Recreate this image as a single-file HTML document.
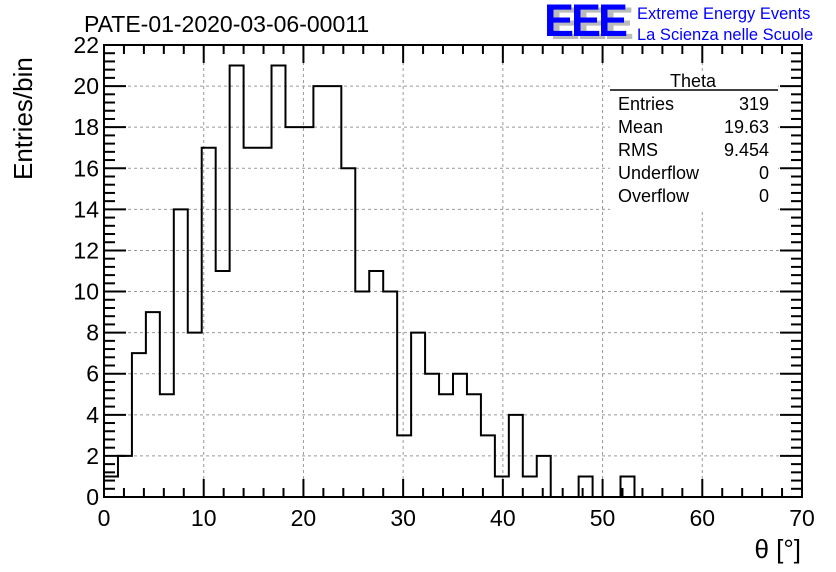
<!DOCTYPE html>
<html><head><meta charset="utf-8"><style>
body{margin:0;background:#fff;}
svg{display:block;font-family:"Liberation Sans",sans-serif;}
</style></head><body>
<svg width="836" height="572" xmlns="http://www.w3.org/2000/svg">
<rect width="836" height="572" fill="#fff"/>
<g id="grid"></g>
<g id="ticks"></g>
<path id="hist" fill="none" stroke="#000" stroke-width="2"/>
<rect x="104" y="45" width="698" height="452" fill="none" stroke="#000" stroke-width="2"/>
<g id="labels" font-size="23"></g>
<text x="84" y="32" font-size="23">PATE-01-2020-03-06-00011</text>
<text x="801" y="558" font-size="26" text-anchor="end">θ [°]</text>
<text transform="translate(32,180) rotate(-90)" font-size="26">Entries/bin</text>
<g>
<text x="550" y="39" font-size="45" font-weight="bold" fill="#bbb" letter-spacing="-3">EEE</text>
<text x="544" y="36" font-size="45" font-weight="bold" fill="#0000ff" letter-spacing="-3">EEE</text>
<text x="637" y="19" font-size="16.5" fill="#0000ff">Extreme Energy Events</text>
<text x="637" y="40" font-size="16.5" fill="#0000ff">La Scienza nelle Scuole</text>
</g>
<g font-size="18">
<rect x="610" y="72" width="168" height="138" fill="#fff"/>
<text x="693" y="87" text-anchor="middle">Theta</text>
<line x1="610" y1="90" x2="778" y2="90" stroke="#000" stroke-width="1.5"/>
<text x="618" y="110">Entries</text><text x="769" y="110" text-anchor="end">319</text>
<text x="618" y="133">Mean</text><text x="769" y="133" text-anchor="end">19.63</text>
<text x="618" y="156">RMS</text><text x="769" y="156" text-anchor="end">9.454</text>
<text x="618" y="179">Underflow</text><text x="769" y="179" text-anchor="end">0</text>
<text x="618" y="202">Overflow</text><text x="769" y="202" text-anchor="end">0</text>
</g>
</svg>
<script>
const counts=[1,2,7,9,5,14,8,17,11,21,17,17,21,18,18,20,20,16,10,11,10,3,8,6,5,6,5,3,1,4,1,2,0,0,1,0,0,1,0,0,0,0,0,0,0,0,0,0,0,0];
const binWidth=1.4;
const xTicks=[0,10,20,30,40,50,60,70];
const yTicks=[0,2,4,6,8,10,12,14,16,18,20,22];
const X0=104,X1=802,Y0=497,Y1=45;
const sx=v=>X0+(v-0)/70*(X1-X0);
const sy=v=>Y0-(v/22)*(Y0-Y1);
const NS="http://www.w3.org/2000/svg";
function mk(tag,attrs,parent){const e=document.createElementNS(NS,tag);for(const k in attrs)e.setAttribute(k,attrs[k]);parent.appendChild(e);return e;}
const grid=document.getElementById('grid'),ticks=document.getElementById('ticks'),labels=document.getElementById('labels');
xTicks.forEach(t=>{
 if(t>0&&t<70){const l=mk('line',{x1:sx(t),x2:sx(t),y1:Y0,y2:Y1,stroke:'#999','stroke-dasharray':'3,3','stroke-width':1},grid);
 
 }
 const tx=mk('text',{x:sx(t),y:526,'text-anchor':'middle'},labels);tx.textContent=t;
 
 
});
yTicks.forEach(t=>{
 if(t>0&&t<22){const l=mk('line',{x1:X0,x2:X1,y1:sy(t),y2:sy(t),stroke:'#999','stroke-dasharray':'3,3','stroke-width':1},grid);
 
 }
 const tx=mk('text',{x:99,y:sy(t)+8,'text-anchor':'end'},labels);tx.textContent=t;
 
 
});
for(let v=0;v<=70;v+=2){const major=v%10===0;const len=major?18:9;
 mk('line',{x1:sx(v),x2:sx(v),y1:Y0,y2:Y0-len,stroke:'#000','stroke-width':2},ticks);
 mk('line',{x1:sx(v),x2:sx(v),y1:Y1,y2:Y1+len,stroke:'#000','stroke-width':2},ticks);}
for(let i=0;i<=55;i++){const v=i*0.4;const major=i%5===0;const len=major?22:11;
 mk('line',{x1:X0,x2:X0+len,y1:sy(v),y2:sy(v),stroke:'#000','stroke-width':2},ticks);
 mk('line',{x1:X1,x2:X1-len,y1:sy(v),y2:sy(v),stroke:'#000','stroke-width':2},ticks);}
let d='M'+sx(0)+','+sy(0);
counts.forEach((c,i)=>{d+=' L'+sx(i*binWidth)+','+sy(c)+' L'+sx((i+1)*binWidth)+','+sy(c);});
d+=' L'+sx(counts.length*binWidth)+','+sy(0);
document.getElementById('hist').setAttribute('d',d);
</script>
</body></html>
